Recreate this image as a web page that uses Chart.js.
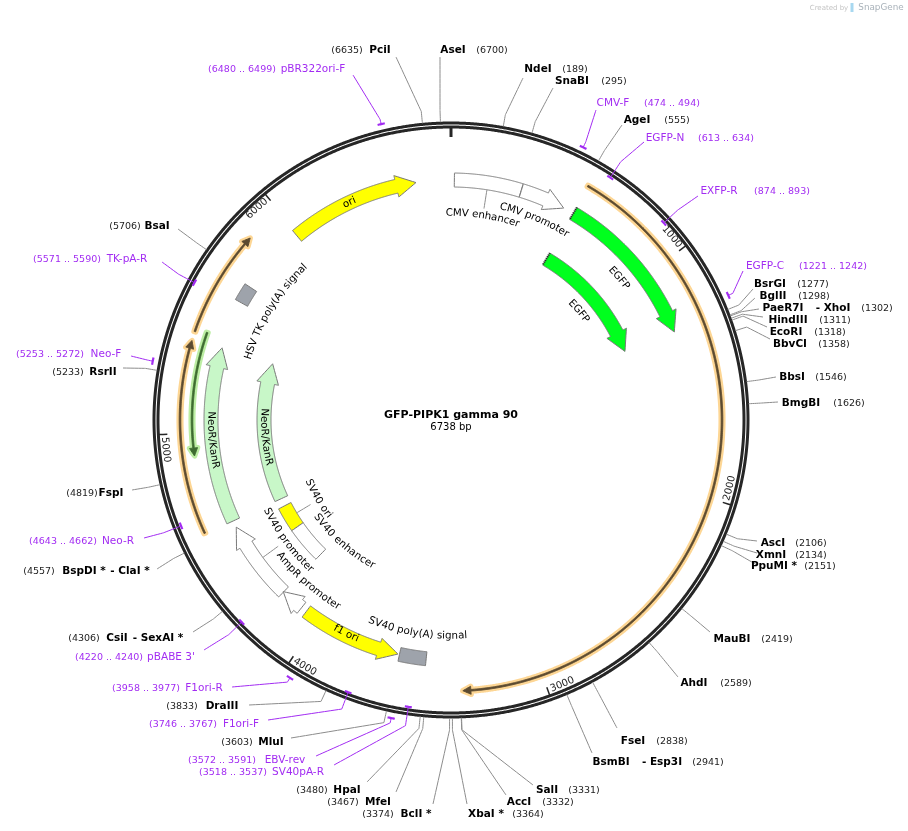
<!DOCTYPE html>
<html>
<head>
<meta charset="utf-8">
<title>GFP-PIPK1 gamma 90</title>
<script src="https://cdn.jsdelivr.net/npm/chart.js@4/dist/chart.umd.min.js"></script>
<style>
    html, body { margin: 0; padding: 0; background: #fff; }
    canvas { display: block; }
</style>
</head>
<body>
<canvas id="map" width="908" height="831"></canvas>
<script>
// Plasmid
const plasmidName = 'GFP-PIPK1 gamma 90';
const plasmidLength = 6738;
const tickValues = [1000, 2000, 3000, 4000, 5000, 6000];

// Restriction sites
const siteNames = ['PciI', 'AseI', 'NdeI', 'SnaBI', 'AgeI', 'BsrGI', 'BglII', 'PaeR7I', 'HindIII', 'EcoRI', 'BbvCI', 'BbsI', 'BmgBI', 'AscI', 'XmnI', 'PpuMI *', 'MauBI', 'AhdI', 'FseI', 'BsmBI', 'SalI', 'AccI', 'XbaI *', 'BclI *', 'MfeI', 'HpaI', 'MluI', 'DraIII', 'CsiI', 'BspDI *', 'FspI', 'RsrII', 'BsaI'];
const sitePositions = [6635, 6700, 189, 295, 555, 1277, 1298, 1302, 1311, 1318, 1358, 1546, 1626, 2106, 2134, 2151, 2419, 2589, 2838, 2941, 3331, 3332, 3364, 3374, 3467, 3480, 3603, 3833, 4306, 4557, 4819, 5233, 5706];
const siteSecondNames = { PaeR7I: '- XhoI', BsmBI: '- Esp3I', CsiI: '- SexAI *', 'BspDI *': '- ClaI *' };

// Primers
const primerNames = ['pBR322ori-F', 'CMV-F', 'EGFP-N', 'EXFP-R', 'EGFP-C', 'TK-pA-R', 'Neo-F', 'Neo-R', "pBABE 3'", 'F1ori-R', 'F1ori-F', 'EBV-rev', 'SV40pA-R'];
const primerStarts = [6480, 474, 613, 874, 1221, 5571, 5253, 4643, 4220, 3958, 3746, 3572, 3518];
const primerEnds = [6499, 494, 634, 893, 1242, 5590, 5272, 4662, 4240, 3977, 3767, 3591, 3537];

// Features, direction 1 = towards higher bp, -1 = towards lower, 0 = no arrow
const featureNames = ['CMV enhancer', 'CMV promoter', 'EGFP', 'EGFP', 'ori', 'HSV TK poly(A) signal', 'NeoR/KanR', 'NeoR/KanR', 'SV40 ori', 'SV40 enhancer', 'SV40 promoter', 'AmpR promoter', 'f1 ori', 'SV40 poly(A) signal'];
const featureStarts = [15, 319, 573, 573, 5991, 5600, 4588, 4588, 4402, 4195, 4197, 4090, 3608, 3480];
const featureEnds = [318, 524, 1282, 1282, 6581, 5680, 5381, 5381, 4543, 4402, 4557, 4199, 4063, 3601];
const featureDirections = [0, 1, 1, 1, 1, 0, 1, 1, 0, 0, 1, 1, -1, 0];

// Thin translated / primer-binding arcs
const arcStarts = [567, 4591, 5410, 4904];
const arcEnds = [3322, 5373, 5843, 5423];
const arcDirections = [1, 1, 1, -1];

// ---- layout and styles, kept apart from the values above ----
const CX = 451, CY = 420;
const C_PURPLE = '#a22cf2';
const featureTrack = [240, 240, 240, 187, 240, 240, 240, 187, 187, 187, 240, 240, 240, 240];
const featureColors = ['#ffffff', '#ffffff', '#00ff1e', '#00ff1e', '#ffff00', '#9ea3ab', '#c8f7c8', '#c8f7c8', '#ffff00', '#ffffff', '#ffffff', '#ffffff', '#ffff00', '#9ea3ab'];
const featurePartial = [false, false, true, true, false, false, false, false, false, false, false, false, false, false];
// label: centre bp on the circle, radius; leader: radius it starts from (0 = none)
const featureLabelBp = [166, 423, 932, 929, 6269, 5647, 4964, 4956, 4479, 4142, 4371, 4146, 3858, 3538];
const featureLabelR = [207, 219, 220, 168, 240, 212, 240, 187, 155, 165, 205, 218, 238, 216];
const featureLeader = [[233, 214], null, null, null, null, null, null, null, [180, 164], null, [233, 214], null, null, null];
const arcTrack = [271, 271, 271, 259];
const arcBand = ['#fdd694', '#fdd694', '#fdd694', '#bdeea4'];
const arcCore = ['#5b4a30', '#5b4a30', '#5b4a30', '#3d6b30'];
// [name x, bp x, y, leader end x, leader end y]
const siteLayout = [
    [380, 347, 50, 396, 57], [453, 492, 50, 440, 57], [538, 575, 69, 523, 78], [572, 614, 81, 553, 88],
    [637, 677, 120, 622, 125], [770, 813, 284, 753, 289], [773, 814, 296, 755, 298], [783, 877, 308, 759, 309],
    [788, 835, 320, 763, 317], [786, 830, 332, 767, 327], [790, 834, 344, 770, 339], [792, 831, 377, 776, 377],
    [801, 849, 403, 778, 402], [773, 811, 543, 757, 541], [771, 811, 555, 757, 553], [774, 820, 566, 757, 565],
    [732, 777, 639, 710, 632], [694, 736, 683, 678, 677], [633, 672, 741, 617, 728], [611, 708, 762, 592, 753],
    [547, 584, 790, 533, 785], [519, 558, 802, 506, 795], [486, 528, 814, 467, 804], [416, 378, 814, 433, 804],
    [378, 343, 802, 396, 792], [347, 312, 790, 367, 782], [271, 237, 742, 291, 738], [222, 182, 706, 249, 705],
    [117, 84, 638, 193, 632], [84, 39, 571, 157, 569], [111, 82, 493, 132, 490], [103, 68, 372, 123, 368],
    [157, 125, 226, 178, 229]
];
const siteSecondX = { PaeR7I: 833, BsmBI: 662, CsiI: 158, 'BspDI *': 130 };
// [name x, bp x, y, leader end x, leader end y, mark radius]
const primerLayout = [
    [313, 242, 69, 353, 75, 304], [613, 672, 103, 596, 110, 303], [665, 726, 138, 644, 142, 290], [719, 782, 191, 698, 196, 290],
    [765, 833, 266, 743, 271, 304], [127, 67, 259, 162, 262, 291], [106, 50, 354, 131, 356, 304], [118, 63, 541, 144, 538, 290],
    [171, 109, 657, 204, 650, 291], [204, 146, 688, 232, 687, 304], [241, 183, 724, 268, 720, 291], [285, 222, 760, 316, 756, 304],
    [298, 233, 772, 334, 765, 290]
];

const FONT = '"DejaVu Sans"';
const bpToRad = bp => bp / plasmidLength * 2 * Math.PI;
const polar = (bp, r) => ({ x: CX + r * Math.sin(bpToRad(bp)), y: CY - r * Math.cos(bpToRad(bp)) });

// Sample an arc between two bp positions
function arcPoints(from, to, r) {
    const n = Math.max(2, Math.ceil(Math.abs(to - from) / 8));
    const pts = [];
    for (let i = 0; i <= n; i++) pts.push(polar(from + (to - from) * i / n, r));
    return pts;
}

// Closed outline of a feature, with arrow head when it has a direction
function shapePoints(start, end, dir, r, half, wing, headPx) {
    const tail = dir >= 0 ? start : end;
    const tip = dir >= 0 ? end : start;
    let pts;
    if (dir === 0) {
        pts = [...arcPoints(tail, tip, r + half), ...arcPoints(tip, tail, r - half)];
    } else {
        const headBp = headPx / r / (2 * Math.PI) * plasmidLength;
        const base = tip - dir * headBp;
        pts = [
            ...arcPoints(tail, base, r + half),
            polar(base, r + wing),
            polar(tip, r),
            polar(base, r - wing),
            ...arcPoints(base, tail, r - half)
        ];
    }
    pts.push(pts[0]);
    return pts;
}

// tiny tension keeps Chart.js off its fast path, which assumes x only grows
function line(data, color, width, extra) {
    return Object.assign({
        data, showLine: true, borderColor: color, borderWidth: width,
        pointRadius: 0, pointHoverRadius: 0, tension: 0.0001, capBezierPoints: false,
        borderCapStyle: 'butt', borderJoinStyle: 'miter'
    }, extra || {});
}

// Build datasets, in paint order
const datasets = [];

// Backbone (two rings)
datasets.push(line(arcPoints(0, plasmidLength, 297), '#262626', 3));
datasets.push(line(arcPoints(0, plasmidLength, 293), '#262626', 3));

// Ticks
datasets.push(line([polar(0, 293), polar(0, 283)], '#262626', 3));
tickValues.forEach(t => datasets.push(line([polar(t, 293), polar(t, 284)], '#262626', 1.5)));

// Site leader lines
sitePositions.forEach((bp, i) => {
    const l = siteLayout[i];
    datasets.push(line([polar(bp, 298), polar(bp, 310), { x: l[3], y: l[4] }], '#8c8c8c', 1));
});

// Primers
primerNames.forEach((name, i) => {
    const l = primerLayout[i];
    const mid = (primerStarts[i] + primerEnds[i]) / 2;
    datasets.push(line([polar(mid, l[5]), polar(mid, 309), { x: l[3], y: l[4] }], C_PURPLE, 1));
    datasets.push(line(arcPoints(mid - 13, mid + 13, l[5]), C_PURPLE, 2.2));
});

// Thin arcs
arcStarts.forEach((s, i) => {
    const body = shapePoints(s, arcEnds[i], arcDirections[i], arcTrack[i], 0.8, 4, 8);
    datasets.push(line(body, arcBand[i], 5.5, { polyFill: arcBand[i], borderJoinStyle: 'round', borderCapStyle: 'round' }));
    datasets.push(line(body, arcCore[i], 1, { polyFill: arcCore[i] }));
});

// Feature shapes
featureNames.forEach((name, i) => {
    const r = featureTrack[i];
    datasets.push(line(shapePoints(featureStarts[i], featureEnds[i], featureDirections[i], r, 7, 11, 20), '#777777', 1, { polyFill: featureColors[i] }));
    if (featurePartial[i]) {
        datasets.push(line([polar(featureStarts[i], r + 7), polar(featureStarts[i], r - 7)], '#222222', 2, { borderDash: [1, 1] }));
    }
    if (featureLeader[i]) {
        const mid = (featureStarts[i] + featureEnds[i]) / 2;
        const bp = i === 0 ? featureLabelBp[i] : mid;
        datasets.push(line([polar(bp, featureLeader[i][0]), polar(bp, featureLeader[i][1])], '#8c8c8c', 1));
    }
});

// SnapGene logo mark
datasets.push(line([{ x: 852, y: 3 }, { x: 852, y: 12 }], '#a8d8f0', 3));

// Chart.js paints the first dataset last
datasets.reverse();

// Filled outlines, from the points the scales have placed
const polyFillPlugin = {
    id: 'polyFill',
    beforeDatasetDraw(chart, args) {
        const ds = chart.data.datasets[args.index];
        if (!ds.polyFill) return;
        const pts = args.meta.data;
        const ctx = chart.ctx;
        ctx.save();
        ctx.beginPath();
        pts.forEach((p, i) => (i ? ctx.lineTo(p.x, p.y) : ctx.moveTo(p.x, p.y)));
        ctx.closePath();
        ctx.fillStyle = ds.polyFill;
        ctx.fill();
        ctx.restore();
    }
};

// Text along the circle, flipped on the lower half so it stays readable
function curvedText(chart, text, bp, r, font, color) {
    const ctx = chart.ctx;
    const sx = chart.scales.x, sy = chart.scales.y;
    ctx.save();
    ctx.font = font;
    ctx.fillStyle = color;
    ctx.textAlign = 'center';
    ctx.textBaseline = 'middle';
    const mid = bpToRad(bp);
    const flip = Math.cos(mid) < 0;
    const total = ctx.measureText(text).width;
    let run = 0;
    for (let i = 0; i < text.length; i++) {
        const w = ctx.measureText(text.slice(0, i + 1)).width - ctx.measureText(text.slice(0, i)).width;
        const off = (run + w / 2 - total / 2) / r;
        const a = flip ? mid - off : mid + off;
        const px = sx.getPixelForValue(CX + r * Math.sin(a));
        const py = sy.getPixelForValue(CY - r * Math.cos(a));
        ctx.save();
        ctx.translate(px, py);
        ctx.rotate(flip ? a + Math.PI : a);
        ctx.fillText(text[i], 0, 0);
        ctx.restore();
        run += w;
    }
    ctx.restore();
}

const labelPlugin = {
    id: 'labels',
    afterDatasetsDraw(chart) {
        const ctx = chart.ctx;
        const sx = chart.scales.x, sy = chart.scales.y;
        const put = (text, x, y, font, color) => {
            ctx.font = font;
            ctx.fillStyle = color;
            ctx.fillText(text, sx.getPixelForValue(x), sy.getPixelForValue(y));
        };
        ctx.save();
        ctx.textAlign = 'center';
        ctx.textBaseline = 'middle';

        // Centre title
        put(plasmidName, CX, 415, `bold 11px ${FONT}`, '#000');
        put(plasmidLength + ' bp', CX, 427, `10px ${FONT}`, '#000');

        // Site labels
        siteNames.forEach((name, i) => {
            const l = siteLayout[i];
            put(name, l[0], l[2], `bold 10.5px ${FONT}`, '#000');
            put('(' + sitePositions[i] + ')', l[1], l[2] + 1, `9.5px ${FONT}`, '#222');
            if (siteSecondNames[name]) put(siteSecondNames[name], siteSecondX[name], l[2], `bold 10.5px ${FONT}`, '#000');
        });

        // Primer labels
        primerNames.forEach((name, i) => {
            const l = primerLayout[i];
            put(name, l[0], l[2], `10.5px ${FONT}`, C_PURPLE);
            put('(' + primerStarts[i] + ' .. ' + primerEnds[i] + ')', l[1], l[2] + 1, `9.5px ${FONT}`, C_PURPLE);
        });

        // Watermark
        put('Created by', 829, 8, `7px ${FONT}`, '#c4c4c4');
        put('SnapGene', 881, 8, `8.8px ${FONT}`, '#a9b2ba');
        ctx.restore();

        // Feature labels and tick labels
        featureNames.forEach((name, i) => {
            curvedText(chart, name, featureLabelBp[i], featureLabelR[i], `10.3px ${FONT}`, '#000');
        });
        tickValues.forEach(t => curvedText(chart, String(t), t - 58, 287, `10px ${FONT}`, '#222'));
    }
};

new Chart(document.getElementById('map'), {
    type: 'scatter',
    data: { datasets },
    options: {
        responsive: false,
        animation: false,
        events: [],
        layout: { padding: 0 },
        plugins: { legend: { display: false }, tooltip: { enabled: false } },
        scales: {
            x: { type: 'linear', min: 0, max: 908, display: false },
            y: { type: 'linear', min: 0, max: 831, reverse: true, display: false }
        }
    },
    plugins: [polyFillPlugin, labelPlugin]
});
</script>
</body>
</html>
